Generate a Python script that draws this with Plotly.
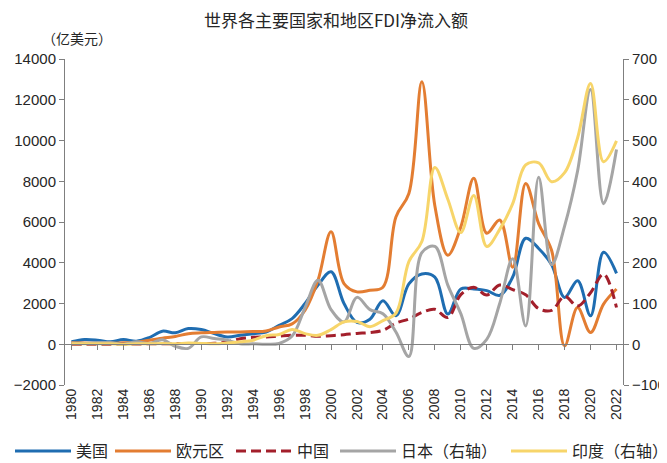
import plotly.graph_objects as go

years = list(range(1980, 2023))
tick_years = list(range(1980, 2023, 2))
tick_labels = [str(y) for y in tick_years]

us = [120, 230, 200, 120, 230, 150, 330, 640, 560, 770, 720, 520, 360, 440, 520, 600,
      930, 1260, 2000, 2900, 3560, 2000, 1070, 1230, 2140, 1400, 2960, 3450, 3290, 1480,
      2710, 2710, 2630, 2400, 3300, 5200, 4700, 3900, 2300, 3120, 1400, 4520, 3480]
eurozone = [80, 60, 50, 50, 70, 90, 200, 300, 380, 520, 560, 580, 600, 600, 620, 650,
            850, 1000, 1670, 3150, 5520, 2980, 2570, 2650, 2800, 6250, 7400, 12880, 6800, 4370,
            5750, 8150, 5450, 6100, 3780, 7890, 5920, 4600, -80, 1800, 575, 1970, 2710]
china = [0, 3, 4, 6, 13, 17, 19, 23, 32, 34, 35, 44, 112, 275, 338, 359,
         402, 442, 438, 388, 421, 471, 531, 575, 681, 1041, 1241, 1562, 1715, 1311,
         2437, 2801, 2412, 2909, 2681, 2425, 1747, 1661, 2354, 1874, 2531, 3441, 1803]
japan = [3, 2, 4, 4, 0, 6, 2, 11, -5, -10, 18, 14, 10, 1, 1, 0,
         2, 20, 90, 157, 85, 55, 115, 85, 75, 30, -30, 225, 240, 145,
         75, -10, 12, 100, 210, 45, 410, 195, 290, 425, 625, 345, 478]
india = [1, 1, 1, 1, 0, 1, 1, 2, 1, 3, 2, 1, 3, 6, 10, 21,
         24, 36, 26, 22, 36, 55, 56, 43, 58, 76, 203, 252, 434, 356,
         274, 365, 240, 282, 345, 440, 445, 399, 421, 506, 640, 448, 499]

names = ["美国", "欧元区", "中国", "日本（右轴）", "印度（右轴）"]
colors = ["#1F6DB1", "#E37D32", "#A31F2B", "#A5A5A5", "#F7D56A"]
legend_x_px = [2, 102, 223, 327, 498]   # legend entry left edges (figure px)

NUM_FONT = "Liberation Sans, Arial, Noto Sans CJK SC"
CJK_FONT = "Noto Sans CJK SC"
AXIS_COLOR = "#7f7f7f"
TEXT_COLOR = "#262626"

# page has an 8px body margin, so the figure is sized to fit the window
W, H = 659, 455
MT, MB = 51, 78
plot_h = H - MT - MB

fig = go.Figure()
series = [(us, "y"), (eurozone, "y"), (china, "y"), (japan, "y2"), (india, "y2")]
legend_ids = ["legend", "legend2", "legend3", "legend4", "legend5"]
for i, (vals, ax) in enumerate(series):
    dash = "10px,5px" if i == 2 else "solid"
    fig.add_trace(go.Scatter(
        x=years, y=vals, name=names[i], mode="lines", yaxis=ax, legend=legend_ids[i],
        line=dict(color=colors[i], width=3, shape="spline", smoothing=1, dash=dash),
    ))

# dummy trace to host the zero-line axis
fig.add_trace(go.Scatter(x=[years[0]], y=[None], xaxis="x2", yaxis="y",
                         showlegend=False, hoverinfo="skip", mode="lines"))

xr = [1979.5, 2022.5]
legend_layout = {}
for lid, lx in zip(legend_ids, legend_x_px):
    legend_layout[lid] = dict(
        orientation="h", xref="container", x=lx / W, yref="paper",
        y=(H - MB - 443) / plot_h, yanchor="middle", xanchor="left",
        font=dict(family=CJK_FONT, size=16, color=TEXT_COLOR),
        itemwidth=56, bgcolor="rgba(0,0,0,0)")

fig.update_layout(
    width=W, height=H,
    margin=dict(l=57, r=44, t=MT, b=MB, autoexpand=False),
    plot_bgcolor="white", paper_bgcolor="white",
    title=dict(text="世界各主要国家和地区FDI净流入额", x=328 / W, xref="container",
               y=1 - 13 / H, yref="container", xanchor="center", yanchor="middle",
               font=dict(family=CJK_FONT, size=17, color=TEXT_COLOR)),
    xaxis=dict(range=xr, tickvals=tick_years, ticktext=tick_labels, tickangle=-90,
               showline=False, ticks="", showgrid=False, zeroline=False,
               tickfont=dict(family=NUM_FONT, size=14, color=TEXT_COLOR)),
    xaxis2=dict(range=xr, overlaying="x", anchor="free", position=0.125,
                tickvals=tick_years, showticklabels=False, showline=True,
                linecolor=AXIS_COLOR, linewidth=1, ticks="outside", ticklen=5,
                tickcolor=AXIS_COLOR, showgrid=False, zeroline=False),
    yaxis=dict(range=[-2000, 14000], dtick=2000, tickformat="d", showline=True,
               linecolor=AXIS_COLOR, ticks="outside", ticklen=5, tickcolor=AXIS_COLOR,
               showgrid=False, zeroline=False,
               tickfont=dict(family=NUM_FONT, size=15, color=TEXT_COLOR)),
    yaxis2=dict(range=[-100, 700], dtick=100, tickformat="d", overlaying="y", side="right",
                showline=True, linecolor=AXIS_COLOR, ticks="outside", ticklen=5,
                tickcolor=AXIS_COLOR, showgrid=False, zeroline=False,
                tickfont=dict(family=NUM_FONT, size=15, color=TEXT_COLOR)),
    annotations=[dict(text="（亿美元）", xref="paper", yref="paper", x=-0.045, y=1.064,
                      xanchor="left", yanchor="middle", showarrow=False,
                      font=dict(family=CJK_FONT, size=14, color=TEXT_COLOR))],
    **legend_layout,
)

fig.write_html("out.html")
